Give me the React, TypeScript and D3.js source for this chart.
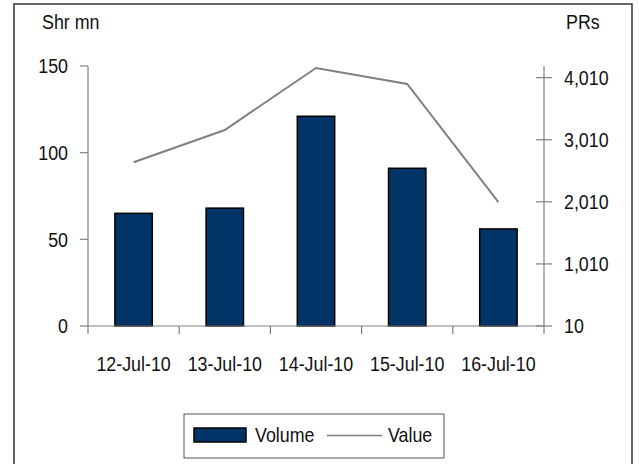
import React from "react";
import * as d3 from "d3";

const categories = ["12-Jul-10", "13-Jul-10", "14-Jul-10", "15-Jul-10", "16-Jul-10"];
const volume = [65, 68, 121, 91, 56];
const value = [2647, 3167, 4166, 3908, 2007];
const leftTicks = [0, 50, 100, 150];
const rightTicks = [10, 1010, 2010, 3010, 4010];

const W = 639;
const H = 464;
const plot = { left: 88, right: 544, top: 66, bottom: 326 };
const FONT = "'Liberation Sans', Arial, sans-serif";
const FS = 21;
const SX = 0.85; // narrow face: horizontal condensing
const AXIS = "#808080";
const NAVY = "#003366";

type TProps = {
  x: number;
  y: number;
  anchor?: "start" | "middle" | "end";
  dy?: string;
  children: React.ReactNode;
};

function T({ x, y, anchor = "start", dy, children }: TProps) {
  return (
    <text
      transform={`translate(${x},${y}) scale(${SX},1)`}
      textAnchor={anchor}
      dy={dy}
      fill="#111"
    >
      {children}
    </text>
  );
}

export default function App() {
  const x = d3.scaleBand<string>().domain(categories).range([plot.left, plot.right]).padding(0);
  const yL = d3.scaleLinear().domain([0, 150]).range([plot.bottom, plot.top]);
  const yR = d3.scaleLinear().domain([10, 4198]).range([plot.bottom, plot.top]);
  const barW = x.bandwidth() * 0.41;
  const cx = (c: string) => (x(c) as number) + x.bandwidth() / 2;

  const line = d3
    .line<number>()
    .x((_, i) => cx(categories[i]))
    .y((d) => yR(d));

  const xTickPos = [...categories.map((c) => x(c) as number), plot.right];

  return (
    <svg
      width={W}
      height={H}
      style={{ position: "absolute", left: 0, top: 0, background: "#fff" }}
      fontFamily={FONT}
      fontSize={FS}
    >
      <rect x={0} y={0} width={W} height={H} fill="#fff" />
      <rect x={14} y={4} width={618} height={480} fill="none" stroke="#333" strokeWidth={1.5} />

      {/* axis titles */}
      <T x={42} y={29}>Shr mn</T>
      <T x={566} y={29}>PRs</T>

      {/* left axis */}
      <line x1={plot.left} x2={plot.left} y1={plot.top} y2={plot.bottom} stroke={AXIS} strokeWidth={1.2} />
      {leftTicks.map((t) => (
        <g key={t}>
          <line x1={plot.left - 8} x2={plot.left} y1={yL(t)} y2={yL(t)} stroke={AXIS} strokeWidth={1.2} />
          <T x={68} y={yL(t)} dy="0.35em" anchor="end">{t}</T>
        </g>
      ))}

      {/* bars */}
      {categories.map((c, i) => (
        <rect
          key={c}
          x={cx(c) - barW / 2}
          y={yL(volume[i])}
          width={barW}
          height={yL(0) - yL(volume[i])}
          fill={NAVY}
          stroke="#000"
          strokeWidth={1.5}
        />
      ))}

      {/* x axis */}
      <line x1={plot.left} x2={plot.right} y1={plot.bottom} y2={plot.bottom} stroke={AXIS} strokeWidth={1.2} />
      {xTickPos.map((p, i) => (
        <line key={i} x1={p} x2={p} y1={plot.bottom} y2={plot.bottom + 8} stroke={AXIS} strokeWidth={1.2} />
      ))}
      {categories.map((c) => (
        <T key={c} x={cx(c)} y={371} anchor="middle">{c}</T>
      ))}

      {/* right axis */}
      <line x1={plot.right} x2={plot.right} y1={plot.top} y2={plot.bottom} stroke={AXIS} strokeWidth={1.2} />
      {rightTicks.map((t) => (
        <g key={t}>
          <line x1={plot.right - 8} x2={plot.right + 8} y1={yR(t)} y2={yR(t)} stroke={AXIS} strokeWidth={1.2} />
          <T x={564} y={yR(t)} dy="0.35em">{d3.format(",")(t)}</T>
        </g>
      ))}

      {/* value line */}
      <path d={line(value) ?? ""} fill="none" stroke="#808080" strokeWidth={2} />

      {/* legend */}
      <rect x={184} y={414} width={260} height={44} fill="#fff" stroke="#555" strokeWidth={1} />
      <rect x={194} y={428} width={52} height={14} fill={NAVY} stroke="#000" strokeWidth={1.5} />
      <T x={255} y={442}>Volume</T>
      <line x1={327} x2={382} y1={435.5} y2={435.5} stroke="#808080" strokeWidth={1.5} />
      <T x={388} y={442}>Value</T>
    </svg>
  );
}
